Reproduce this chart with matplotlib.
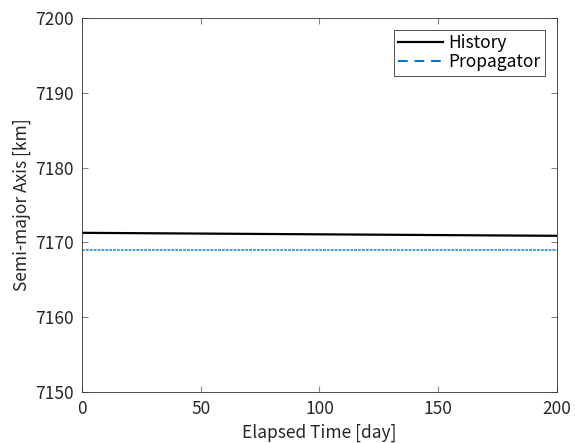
import matplotlib
matplotlib.use('Agg')
import matplotlib.pyplot as plt
from matplotlib.lines import Line2D

plt.rcParams['font.family'] = ['Noto Sans CJK JP', 'DejaVu Sans']

# elapsed time [day]
days = [0, 25, 50, 75, 100, 125, 150, 175, 200]
# semi-major axis [km]
history = [7171.28, 7171.23, 7171.18, 7171.13, 7171.08, 7171.03, 7170.98, 7170.93, 7170.88]
propagator = [7168.98, 7168.99, 7168.98, 7168.99, 7168.98, 7168.99, 7168.98, 7168.99, 7168.98]

blue = '#0072BD'
txt = '#262626'

fig = plt.figure(figsize=(5.75, 4.43), dpi=100)
ax = fig.add_axes([0.1426, 0.1151, 0.8261, 0.8443])

ax.plot(days, history, color='black', linewidth=1.6)
ax.plot(days, propagator, color=blue, linewidth=1.0, linestyle=(0, (2, 0.8)))

ax.set_xlim(0, 200)
ax.set_ylim(7150, 7200)
ax.set_xticks([0, 50, 100, 150, 200])
ax.set_yticks(range(7150, 7201, 10))
ax.tick_params(direction='in', length=4, labelsize=12.5, colors='#888888',
               labelcolor=txt, top=True, right=True)
ax.tick_params(axis='x', pad=6)
ax.tick_params(axis='y', pad=6)
for s in ax.spines.values():
    s.set_color('#333333')
    s.set_linewidth(0.6)

ax.set_xlabel('Elapsed Time [day]', fontsize=12.5, color=txt, labelpad=4)
ax.set_ylabel('Semi-major Axis [km]', fontsize=12.5, color=txt, labelpad=3)

handles = [Line2D([], [], color='black', linewidth=1.6),
           Line2D([], [], color=blue, linewidth=1.4, linestyle=(0, (5, 3.5)))]
leg = ax.legend(handles, ['History', 'Propagator'], loc='upper right', fontsize=12.5,
                fancybox=False, framealpha=1, edgecolor='#333333', borderpad=0.25,
                labelspacing=0.05, handlelength=2.6, handletextpad=0.3,
                borderaxespad=0.7)
leg.get_frame().set_linewidth(0.6)

fig.savefig('out.png', dpi=100)
